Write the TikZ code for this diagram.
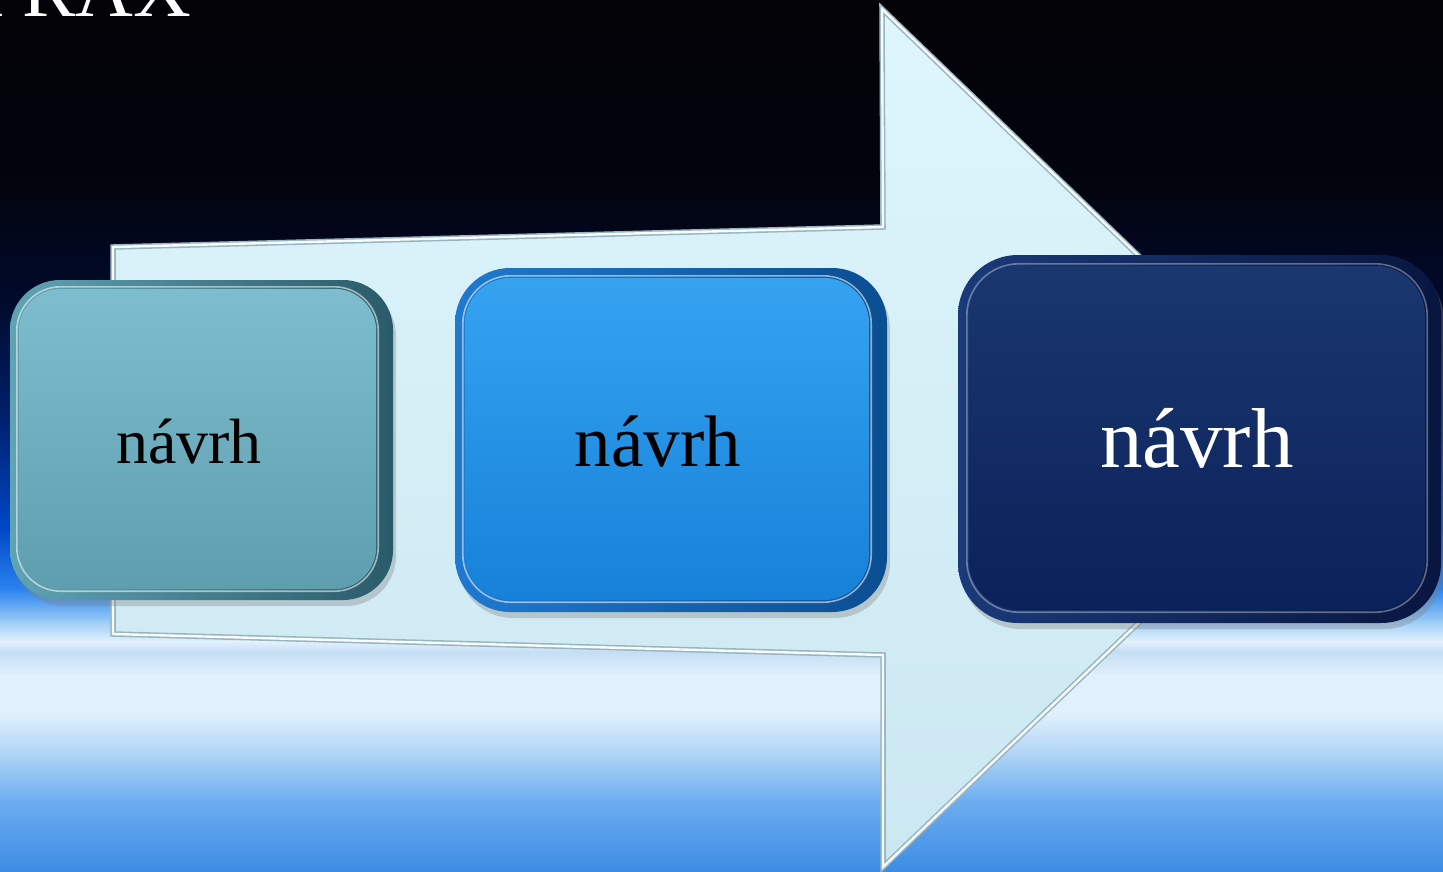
\documentclass[tikz,border=0pt]{standalone}
\usepackage{fontspec}
\setmainfont{Liberation Serif}
\usetikzlibrary{shadows}
\definecolor{bg0}{HTML}{030307}
\definecolor{bg1}{HTML}{02040E}
\definecolor{bg2}{HTML}{010A2C}
\definecolor{bg3}{HTML}{00206E}
\definecolor{bg4}{HTML}{0048C8}
\definecolor{bg5}{HTML}{2A84EE}
\definecolor{bg6}{HTML}{9ACCF6}
\definecolor{bg7}{HTML}{E4F2FC}
\definecolor{bg8}{HTML}{C4DEF4}
\definecolor{bg9}{HTML}{E0F0FC}
\definecolor{bg10}{HTML}{A8D0F6}
\definecolor{bg11}{HTML}{6EAEF0}
\definecolor{bg12}{HTML}{3C8CE4}
\definecolor{arrtop}{HTML}{DEF6FC}
\definecolor{arrbot}{HTML}{CBE7F1}
\definecolor{arredge}{HTML}{98B6C2}
\definecolor{aRimL}{HTML}{5FA3B4}
\definecolor{aRimR}{HTML}{2A5B69}
\definecolor{aTop}{HTML}{7EBDCE}
\definecolor{aBot}{HTML}{5E9EAF}
\definecolor{bRimL}{HTML}{1E7AD0}
\definecolor{bRimR}{HTML}{0B4E92}
\definecolor{bTop}{HTML}{36A3F1}
\definecolor{bBot}{HTML}{1681D8}
\definecolor{cRimL}{HTML}{1A3A78}
\definecolor{cRimR}{HTML}{081640}
\definecolor{cTop}{HTML}{1A3770}
\definecolor{cBot}{HTML}{0B2159}
\tikzset{
  band/.style={draw=none},
  rimbox/.style={rectangle, draw=none, inner sep=0pt,
    drop shadow={shadow xshift=3pt, shadow yshift=-6pt, opacity=0.35}},
  hilite/.style={draw=white, line width=1.6pt, opacity=0.55},
  lbl/.style={anchor=base, inner sep=0pt},
  arrowshape/.style={top color=arrtop, bottom color=arrbot, draw=arredge,
    line width=5.5pt, line join=miter},
  arrowhl/.style={draw=white, line width=2.4pt, opacity=0.95, line join=miter}
}
\begin{document}
\begin{tikzpicture}[x=1pt,y=-1pt]
\useasboundingbox (0,0) rectangle (1443,871);
\clip (0,0) rectangle (1443,871);
% background
\shade[band, top color=bg0, bottom color=bg1] (0,-1) rectangle (1443,190);
\shade[band, top color=bg1, bottom color=bg2] (0,189) rectangle (1443,300);
\shade[band, top color=bg2, bottom color=bg3] (0,299) rectangle (1443,420);
\shade[band, top color=bg3, bottom color=bg4] (0,419) rectangle (1443,530);
\shade[band, top color=bg4, bottom color=bg5] (0,529) rectangle (1443,590);
\shade[band, top color=bg5, bottom color=bg6] (0,589) rectangle (1443,622);
\shade[band, top color=bg6, bottom color=bg7] (0,621) rectangle (1443,642);
\shade[band, top color=bg7, bottom color=bg8] (0,641) rectangle (1443,652);
\shade[band, top color=bg8, bottom color=bg9] (0,651) rectangle (1443,675);
\shade[band, top color=bg9, bottom color=bg9] (0,674) rectangle (1443,715);
\shade[band, top color=bg9, bottom color=bg10] (0,714) rectangle (1443,760);
\shade[band, top color=bg10, bottom color=bg11] (0,759) rectangle (1443,800);
\shade[band, top color=bg11, bottom color=bg12] (0,799) rectangle (1443,872);
% title remnant
\node[lbl, anchor=base west, text=white, font=\fontsize{80}{90}\selectfont] (title) at (-22.5,16) {PRAX};
% big arrow
\path[arrowshape] (113,247) -- (883,227) -- (882,9) -- (1330,440) -- (883,867) -- (883,655) -- (113,634) -- cycle;
\path[arrowhl] (113,247) -- (883,227) -- (882,9) -- (1330,440) -- (883,867) -- (883,655) -- (113,634) -- cycle;
% box 1
\node[rimbox, left color=aRimL, right color=aRimR, minimum width=383pt, minimum height=320pt, rounded corners=50pt] (b1) at (201.5,440) {};
\shade[top color=aTop, bottom color=aBot, rounded corners=42pt] ([shift={(9,9)}]b1.north west) rectangle ([shift={(-17,-11)}]b1.south east);
\path[hilite, rounded corners=44pt] ([shift={(7,7)}]b1.north west) rectangle ([shift={(-15,-9)}]b1.south east);
\node[lbl, text=black, font=\fontsize{64}{70}\selectfont] (t1) at (189,463) {návrh};
% box 2
\node[rimbox, left color=bRimL, right color=bRimR, minimum width=432pt, minimum height=344pt, rounded corners=55pt] (b2) at (671,440) {};
\shade[top color=bTop, bottom color=bBot, rounded corners=46pt] ([shift={(10,10)}]b2.north west) rectangle ([shift={(-18,-12)}]b2.south east);
\path[hilite, rounded corners=48pt] ([shift={(8,8)}]b2.north west) rectangle ([shift={(-16,-10)}]b2.south east);
\node[lbl, text=black, font=\fontsize{73}{80}\selectfont] (t2) at (658,466) {návrh};
% box 3
\node[rimbox, left color=cRimL, right color=cRimR, minimum width=483pt, minimum height=368pt, rounded corners=60pt] (b3) at (1199.5,439) {};
\shade[top color=cTop, bottom color=cBot, rounded corners=50pt] ([shift={(11,11)}]b3.north west) rectangle ([shift={(-16,-13)}]b3.south east);
\path[hilite, opacity=0.35, rounded corners=52pt] ([shift={(9,9)}]b3.north west) rectangle ([shift={(-14,-11)}]b3.south east);
\node[lbl, text=white, font=\fontsize{85}{92}\selectfont] (t3) at (1197,467) {návrh};
\end{tikzpicture}
\end{document}
